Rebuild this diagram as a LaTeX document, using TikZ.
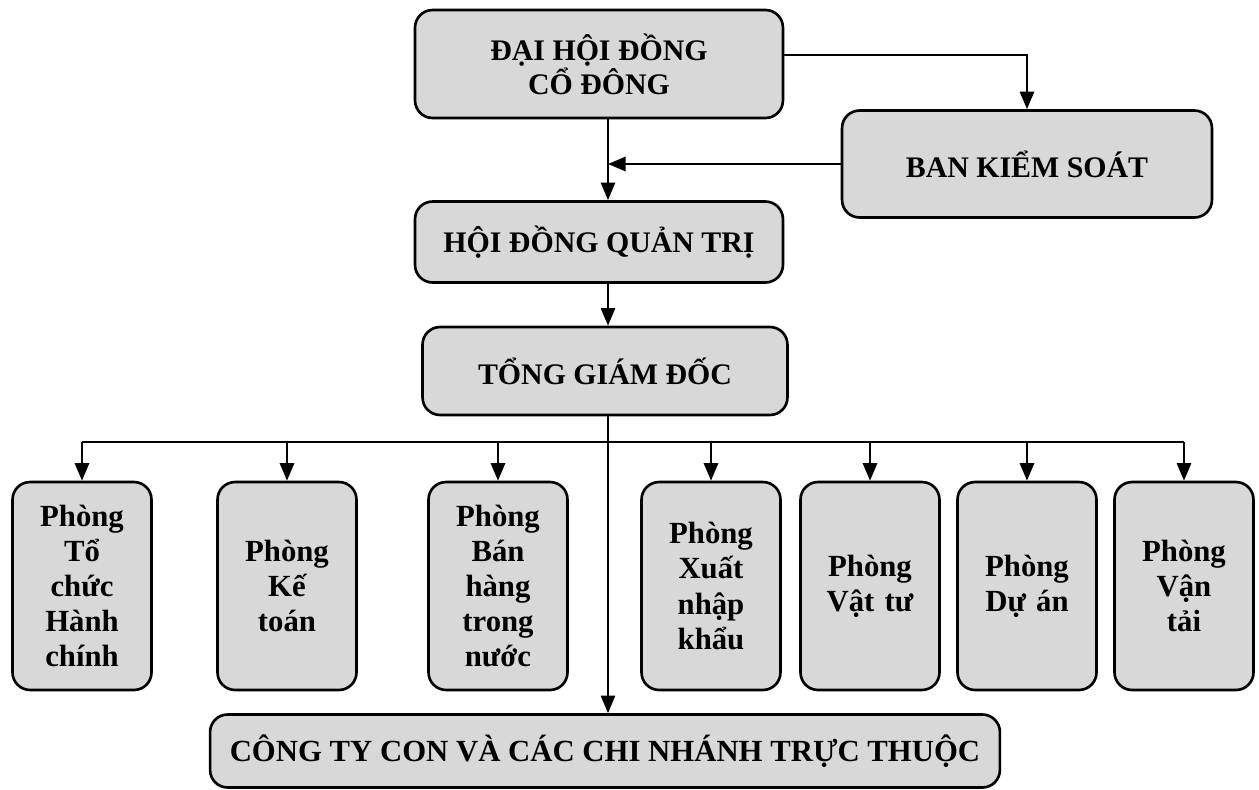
\documentclass[tikz,border=0pt]{standalone}
\usepackage{fontspec}
\setmainfont{Liberation Serif}
\usetikzlibrary{arrows.meta, positioning}
\definecolor{boxfill}{HTML}{D8D8D8}

\tikzset{
  unit/.style={draw, line width=1.5pt, fill=boxfill, rounded corners=10pt,
               font=\fontsize{17}{19.5}\selectfont\bfseries, align=center},
  dept/.style={unit, font=\fontsize{17.5}{20}\selectfont\bfseries,
               minimum width=2.78cm, minimum height=4.16cm, text width=2.5cm},
  link/.style={line width=1.5pt, -{Triangle[width=8pt,length=10pt]}},
  wire/.style={line width=1.5pt}
}

\begin{document}
\begin{tikzpicture}[x=0.02cm, y=-0.02cm]
  \useasboundingbox (0,0) rectangle (1259,789);

  % top levels
  \node[unit, minimum width=7.36cm, minimum height=2.16cm] (dhcd) at (599,64)
    {ĐẠI HỘI ĐỒNG\\CỔ ĐÔNG};
  \node[unit, minimum width=7.4cm, minimum height=2.14cm] (bks) at (1027,164)
    {BAN KIỂM SOÁT};
  \node[unit, minimum width=7.36cm, minimum height=1.62cm] (hdqt) at (599,242)
    {HỘI ĐỒNG QUẢN TRỊ};
  \node[unit, minimum width=7.3cm, minimum height=1.76cm] (tgd) at (605,371)
    {TỔNG GIÁM ĐỐC};
  \node[unit, font=\fontsize{17.5}{20}\selectfont\bfseries,
        minimum width=15.8cm, minimum height=1.46cm] (ctcn) at (605,751)
    {CÔNG TY CON VÀ CÁC CHI NHÁNH TRỰC THUỘC};

  % departments
  \foreach \x/\n [count=\i] in
    {82/{Phòng\\Tổ\\chức\\Hành\\chính}, 287/{Phòng\\Kế\\toán},
     498/{Phòng\\Bán\\hàng\\trong\\nước}, 711/{Phòng\\Xuất\\nhập\\khẩu},
     870/{Phòng\\Vật tư}, 1027/{Phòng\\Dự án}, 1184/{Phòng\\Vận\\tải}}
    \node[dept] (p\i) at (\x,586) {\n};

  % connectors
  \coordinate (trunk) at (608,0);
  \coordinate (bus) at (608,442);
  \draw[link] (dhcd.east |- 0,55) -| (bks.north);
  \draw[link] (bks.west) -- (trunk |- bks.west);
  \draw[link] (trunk |- dhcd.south) -- (trunk |- hdqt.north);
  \draw[link] (trunk |- hdqt.south) -- (trunk |- tgd.north);
  \draw[link] (trunk |- tgd.south) -- (trunk |- ctcn.north);
  \draw[wire] (bus -| p1.north) -- (bus -| p7.north);
  \foreach \i in {1,...,7}
    \draw[link] (bus -| p\i.north) -- (p\i.north);
\end{tikzpicture}
\end{document}
